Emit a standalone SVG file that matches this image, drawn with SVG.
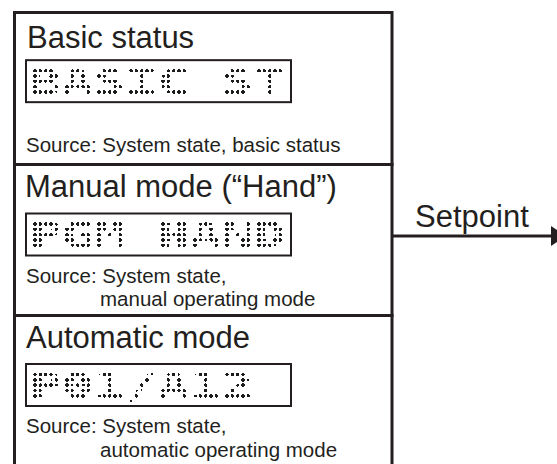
<svg xmlns="http://www.w3.org/2000/svg" width="557" height="464" viewBox="0 0 557 464">
  <style>
    .frame { fill: none; stroke: #231f20; stroke-width: 3; }
    .lcdbox { fill: none; stroke: #231f20; stroke-width: 2; }
    .title { font-family: "Liberation Sans", Arial, sans-serif; font-size: 31px; fill: #231f20; }
    .src { font-family: "Liberation Sans", Arial, sans-serif; font-size: 20.5px; fill: #231f20; }
    .lcd { font-family: "DejaVu Sans Mono", monospace; font-weight: bold; font-size: 35px; text-anchor: middle; fill: url(#dots); }
    .conn { fill: none; stroke: #231f20; stroke-width: 3; }
  </style>
  <defs>
    <pattern id="dots" patternUnits="userSpaceOnUse" x="-1.7778" y="-2.6667" width="3.5556" height="5.3333">
      <rect x="1.3778" y="2.0667" width="0.8" height="1.2" fill="#000"/>
    </pattern>
    <filter id="snap" x="-10%" y="-30%" width="120%" height="160%">
      <feGaussianBlur in="SourceAlpha" stdDeviation="0.8" result="b"/>
      <feComponentTransfer in="b" result="t">
        <feFuncA type="discrete" tableValues="0 1 1 1 1 1 1 1 1 1 1 1 1 1 1 1"/>
      </feComponentTransfer>
      <feFlood flood-color="#1e1e1e" result="c"/>
      <feComposite in="c" in2="t" operator="in"/>
    </filter>
    <marker id="arrowhead" markerUnits="userSpaceOnUse" markerWidth="16" markerHeight="20" refX="0" refY="10" orient="auto" overflow="visible">
      <path d="M0,0 L15,10 L0,20 Z" fill="#231f20"/>
    </marker>
  </defs>

  <g id="basic-status">
    <rect class="frame" x="14.5" y="12.5" width="377.5" height="152"/>
    <text class="title" x="27" y="48">Basic status</text>
    <g transform="translate(35,70.67)">
      <rect class="lcdbox" x="-9" y="-10.5" width="265" height="42"/>
      <g filter="url(#snap)">
        <text class="lcd" transform="scale(1.5,1)" x="7.111 28.444 49.778 71.111 92.444 113.778 135.111 156.444" y="23.2">BASIC ST</text>
      </g>
    </g>
    <text class="src" x="26" y="152">Source: System state, basic status</text>
  </g>

  <g id="manual-mode">
    <rect class="frame" x="14.5" y="164.5" width="377.5" height="151"/>
    <text class="title" x="25" y="197">Manual mode (“Hand”)</text>
    <g transform="translate(35,224)">
      <rect class="lcdbox" x="-9" y="-10.5" width="265" height="42"/>
      <g filter="url(#snap)">
        <text class="lcd" transform="scale(1.5,1)" x="7.111 28.444 49.778 71.111 92.444 113.778 135.111 156.444" y="23.2">PGM HAND</text>
      </g>
    </g>
    <text class="src" x="26" y="283">Source: System state,</text>
    <text class="src" x="100" y="306">manual operating mode</text>
  </g>

  <g id="automatic-mode">
    <rect class="frame" x="14.5" y="315.5" width="377.5" height="160"/>
    <text class="title" x="26" y="348">Automatic mode</text>
    <g transform="translate(35,374.5)">
      <rect class="lcdbox" x="-9" y="-10.5" width="265" height="42"/>
      <g filter="url(#snap)">
        <text class="lcd" transform="scale(1.5,1)" x="7.111 28.444 49.778 71.111 92.444 113.778 135.111" y="23.2">P01/A12</text>
      </g>
    </g>
    <text class="src" x="26" y="433">Source: System state,</text>
    <text class="src" x="100" y="457">automatic operating mode</text>
  </g>

  <g id="connectors">
    <line class="conn" x1="392" y1="236" x2="551" y2="236" marker-end="url(#arrowhead)"/>
    <text class="title" x="415" y="227">Setpoint</text>
  </g>
</svg>
